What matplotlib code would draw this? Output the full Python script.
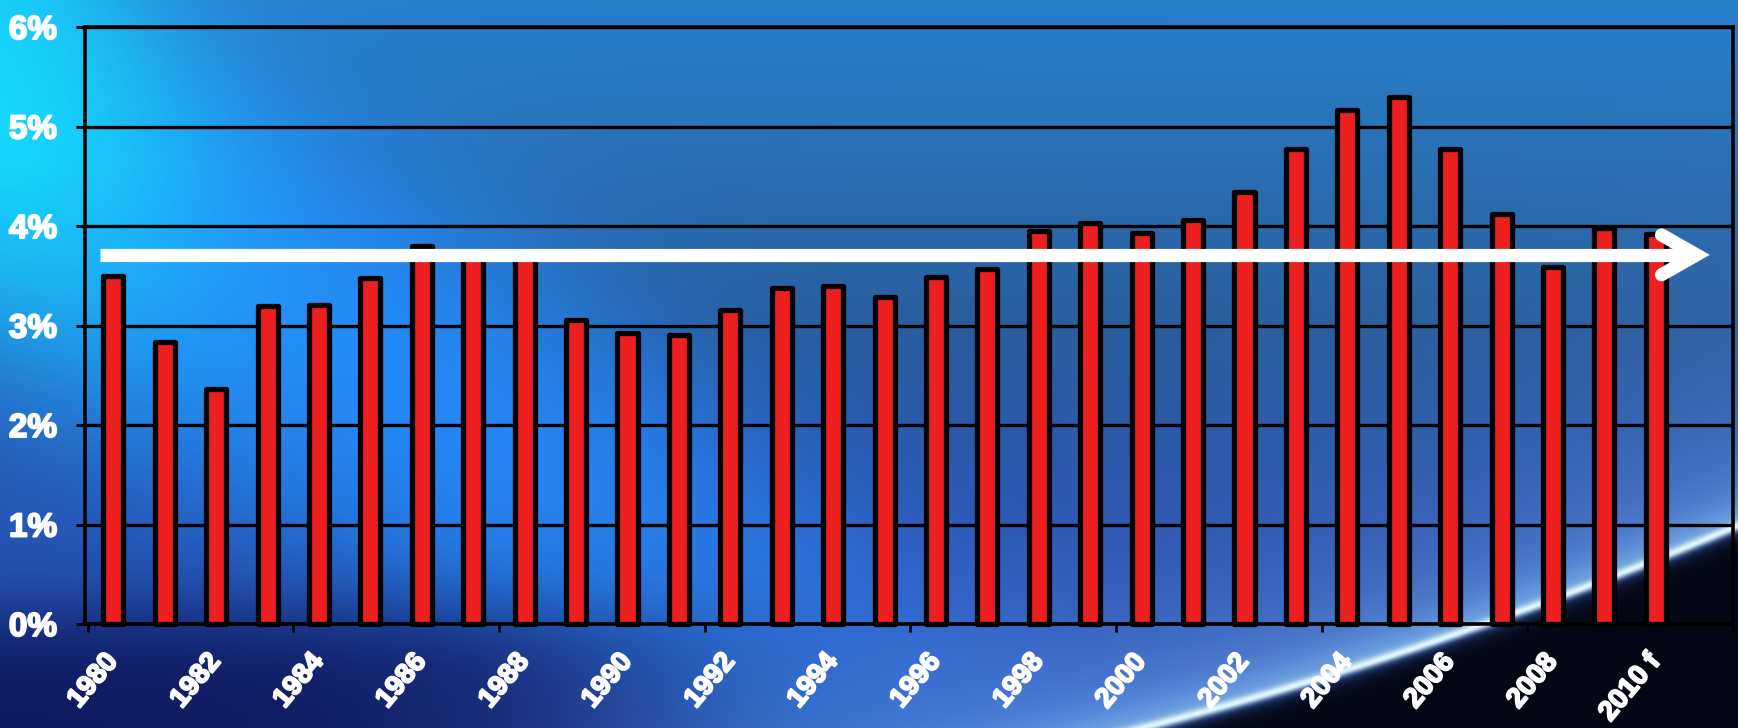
import numpy as np
import matplotlib
matplotlib.use("Agg")
import matplotlib.pyplot as plt
import matplotlib.patheffects as pe
from matplotlib.transforms import ScaledTranslation

# Taxa anual (%) 1980-2010 (2010 = previsão)
anos = list(range(1980, 2011))
taxas = [3.50, 2.83, 2.36, 3.20, 3.21, 3.48, 3.80, 3.70, 3.70, 3.06,
         2.92, 2.90, 3.16, 3.38, 3.40, 3.29, 3.49, 3.57, 3.95, 4.03,
         3.93, 4.06, 4.34, 4.77, 5.17, 5.30, 4.77, 4.12, 3.59, 3.98,
         3.92]
rotulos_x = [str(a) for a in anos[::2]]
rotulos_x[-1] = '2010 f'
rotulos_y = ['0%', '1%', '2%', '3%', '4%', '5%', '6%']
nivel_tendencia = 3.71   # seta horizontal de tendência

W, H = 1738, 728


def sig(t):
    return 1.0 / (1.0 + np.exp(-t))


def mistura(base, cor, w):
    cor = np.asarray(cor, dtype=float)
    if cor.ndim == 1:
        cor = cor[None, None, :]
    return base * (1 - w[..., None]) + cor * w[..., None]


# Fundo em degradê azul
X, Y = np.meshgrid(np.arange(W, dtype=float), np.arange(H, dtype=float))

# região "aço" (direita/cima)
fundo = mistura(np.zeros((H, W, 3)) + np.array([0.16, 0.50, 0.80]),
                [0.16, 0.37, 0.60], np.clip(Y / 330.0, 0, 1))
fundo = mistura(fundo, [0.15, 0.30, 0.68], sig((Y - 430) / 60.0))

# faixa clara diagonal (esquerda)
claro = np.zeros((H, W, 3)) + np.array([0.14, 0.56, 1.0])
claro = mistura(claro, [0.16, 0.36, 0.80], sig((X - 800) / 120.0))
claro = mistura(claro, [0.08, 0.86, 1.0],
                np.exp(-(X / 210.0) ** 2) * np.clip(1.45 - Y / 360.0, 0, 1))
w_claro = sig((Y - 0.73 * (X - 150)) / 60.0) * sig((430 + 0.5 * X - Y) / 70.0)
fundo = mistura(fundo, claro, w_claro)

# parte de baixo à esquerda, mais escura
fundo = mistura(fundo, [0.15, 0.34, 0.72],
                sig((Y - 430 - 0.5 * X) / 70.0) * sig((800 - X) / 100.0))
fundo = mistura(fundo, [0.06, 0.10, 0.38],
                sig((Y - 615) / 25.0) * sig((650 - X) / 110.0))

# risco de luz e canto escuro (direita, embaixo)
dx = X - 1140
ys = 728 - 0.2547 * dx - 1.42e-4 * np.where(dx > 0, dx, 0) ** 2
d = Y - ys
acima = d < 0
brilho = np.where(acima, np.exp(d / 130.0), 0) * sig((X - 550) / 120.0)
fundo = mistura(fundo, [0.40, 0.58, 0.88], 0.75 * brilho)
fundo = mistura(fundo, [0.60, 0.85, 1.0],
                0.7 * np.where(acima, np.exp(d / 18.0), 0))
fundo = mistura(fundo, [0.02, 0.03, 0.08], sig((d - 7) / 5.0))
fundo = mistura(fundo, [0.88, 0.97, 1.0], np.exp(-(d / 5.0) ** 2))
fundo = np.clip(fundo, 0, 1)

fig = plt.figure(figsize=(W / 100, H / 100), dpi=100)
ax_bg = fig.add_axes([0, 0, 1, 1], zorder=0)
ax_bg.imshow(fundo, aspect='auto', extent=[0, 1, 0, 1])
ax_bg.axis('off')

ax = fig.add_axes([85 / W, 104 / H, 1648 / W, 597 / H], zorder=1)
ax.patch.set_alpha(0)

x = np.arange(len(taxas))
ax.bar(x, taxas, width=0.39, color='#ee1f1f', edgecolor='black',
       linewidth=3.8, joinstyle='round', zorder=3, clip_on=False)

# seta de tendência
ax.plot([-0.25, 30.6], [nivel_tendencia, nivel_tendencia], color='white',
        lw=9.5, solid_capstyle='butt', zorder=5, clip_on=False)
ax.plot([30.11, 30.79, 30.11],
        [nivel_tendencia + 0.20, nivel_tendencia, nivel_tendencia - 0.20],
        color='white', lw=9.5, solid_capstyle='round',
        solid_joinstyle='miter', zorder=5, clip_on=False)

ax.set_xlim(-0.55, 31.45)
ax.set_ylim(0, 6)
ax.set_yticks(range(7), rotulos_y)
ax.grid(axis='y', color='black', lw=2.4, zorder=1)
for s in ax.spines.values():
    s.set_color('black')
    s.set_linewidth(2.6)
    s.set_zorder(2)

engrossa = [pe.withStroke(linewidth=1.4, foreground='white')]

ax.tick_params(axis='y', length=6.5, width=2.2, color='black', pad=13.5,
               labelcolor='white', labelsize=24)
for t in ax.get_yticklabels():
    t.set_fontweight('bold')
    t.set_family('Liberation Sans')
    t.set_path_effects(engrossa)

ax.set_xticks(x[::2], rotulos_x, rotation=50, ha='right', va='top',
              rotation_mode='anchor')
ax.set_xticks(np.arange(-0.5, 32, 4), minor=True)
ax.tick_params(axis='x', which='major', length=0, pad=18,
               labelcolor='white', labelsize=20)
ax.tick_params(axis='x', which='minor', length=6, width=2, color='black')
desloc = ScaledTranslation(-0.10, 0, fig.dpi_scale_trans)
for t in ax.get_xticklabels():
    t.set_fontweight('bold')
    t.set_family('Liberation Sans')
    t.set_path_effects(engrossa)
    t.set_transform(t.get_transform() + desloc)

fig.savefig('out.png', dpi=100)
